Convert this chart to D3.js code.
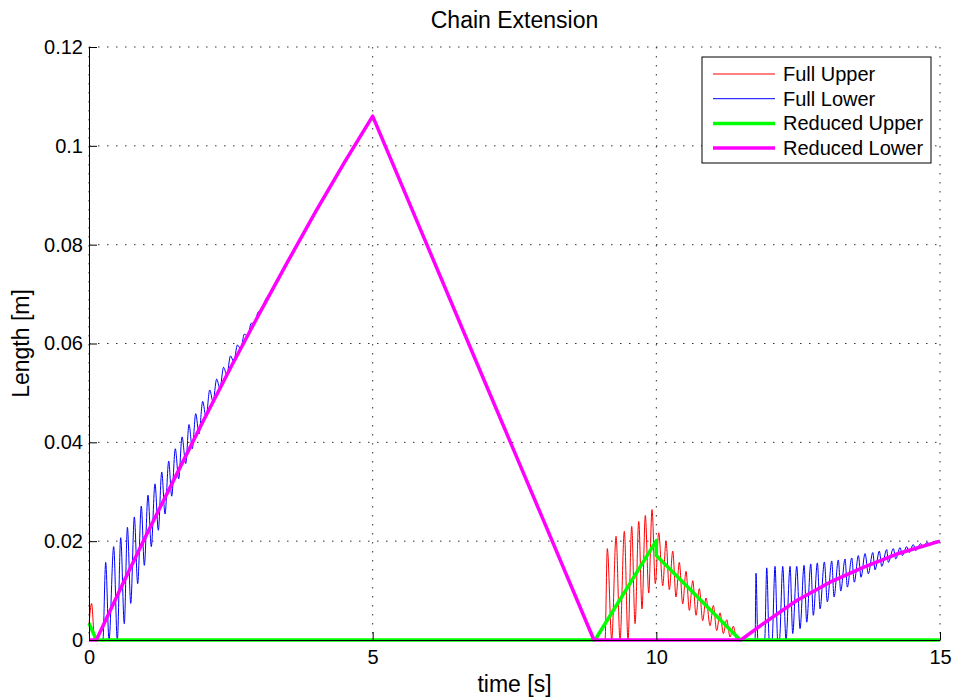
<!DOCTYPE html>
<html>
<head>
<meta charset="utf-8">
<script src="https://cdn.jsdelivr.net/npm/d3@7"></script>
<style>
  body { margin: 0; background: #fff; }
  text { font-family: "Liberation Sans", Arial, sans-serif; fill: #000; }
  .grid line { stroke: #333; stroke-width: 1; stroke-dasharray: 1.5, 7.5; }
  .axis path, .axis line { stroke: #000; stroke-width: 1; }
</style>
</head>
<body>
<div id="chart"></div>
<script>
// Chart data: [time s, length m]
var seriesNames = ["Full Upper", "Full Lower", "Reduced Upper", "Reduced Lower"];
var xTicks = [0, 5, 10, 15];
var yTicks = [0, 0.02, 0.04, 0.06, 0.08, 0.1, 0.12];

var fullUpper = [
  [0, 0.003], [0.045, 0.0074], [0.1, 0], [9.096, 0],
  [9.136, 0.0185], [9.214, 0], [9.29, 0.021], [9.36, 0], [9.436, 0.022], [9.501, 0],
  [9.566, 0.023], [9.625, 0.0033], [9.69, 0.024], [9.748, 0.0063], [9.806, 0.0252],
  [9.866, 0.0095], [9.924, 0.0264], [9.982, 0.0114], [10.042, 0.0217], [10.113, 0.011],
  [10.171, 0.02], [10.229, 0.0102], [10.289, 0.018], [10.347, 0.0087], [10.405, 0.0157],
  [10.465, 0.0073], [10.523, 0.0139], [10.582, 0.006], [10.642, 0.012], [10.7, 0.005],
  [10.758, 0.0104], [10.817, 0.0039], [10.876, 0.0085], [10.947, 0.0029], [11.005, 0.007],
  [11.064, 0.0019], [11.123, 0.0055], [11.181, 0.0013], [11.241, 0.0041], [11.299, 0.0006],
  [11.357, 0.0028], [11.417, 0], [15, 0]
];

var fullLower = [
  [0, 0], [0.245, 0], [0.294, 0.0157], [0.353, 0], [0.435, 0.0189], [0.499, 0],
  [0.559, 0.0207], [0.622, 0.0033], [0.677, 0.0228], [0.736, 0.0074], [0.799, 0.0249],
  [0.858, 0.0114], [0.922, 0.0271], [0.975, 0.0151], [1.04, 0.0293], [1.098, 0.0189],
  [1.163, 0.0316], [1.222, 0.0222], [1.282, 0.034], [1.34, 0.0255], [1.405, 0.0362],
  [1.458, 0.0291], [1.521, 0.0387], [1.581, 0.0326], [1.64, 0.0411], [1.705, 0.0357],
  [1.763, 0.0436], [1.821, 0.0387], [1.881, 0.0458], [1.939, 0.0417], [2.004, 0.0483],
  [2.063, 0.045], [2.128, 0.0506], [2.186, 0.0482], [2.25, 0.0528], [2.308, 0.0509],
  [2.372, 0.0552], [2.43, 0.0536], [2.494, 0.0575], [2.552, 0.0563], [2.616, 0.0597],
  [2.674, 0.0589], [2.738, 0.0619], [2.796, 0.0615], [2.86, 0.0641], [2.918, 0.0641],
  [2.982, 0.0664], [3.04, 0.0667], [3.104, 0.0687], [3.2, 0.0703], [3.5, 0.0765],
  [4.0, 0.0868], [4.5, 0.0966], [4.95, 0.1051], [5.0, 0.106], [5.05, 0.1046],
  [6, 0.0788], [7, 0.0516], [8, 0.0245], [8.85, 0.0014], [8.9, 0], [11.74, 0],
  [11.757, 0.0135], [11.79, 0], [11.91, 0], [11.946, 0.0146], [11.99, 0], [12.04, 0],
  [12.092, 0.0149], [12.14, 0], [12.17, 0], [12.228, 0.0149], [12.286, 0],
  [12.357, 0.0149], [12.404, 0.0013], [12.475, 0.0149], [12.533, 0.0023], [12.604, 0.0151],
  [12.651, 0.0036], [12.722, 0.0154], [12.767, 0.005], [12.838, 0.0156], [12.886, 0.0063],
  [12.962, 0.0158], [13.014, 0.0077], [13.092, 0.016], [13.132, 0.0087], [13.208, 0.0162],
  [13.25, 0.0099], [13.326, 0.0164], [13.367, 0.0107], [13.444, 0.0166], [13.49, 0.0117],
  [13.561, 0.0171], [13.608, 0.0127], [13.679, 0.0175], [13.737, 0.0134], [13.815, 0.0177],
  [13.855, 0.0142], [13.931, 0.018], [13.973, 0.0149], [14.061, 0.0183], [14.089, 0.0157],
  [14.178, 0.0185], [14.22, 0.0164], [14.296, 0.0187], [14.336, 0.0171], [14.414, 0.0189],
  [14.454, 0.0177], [14.53, 0.0193], [14.572, 0.0181], [14.661, 0.0195], [14.696, 0.0187],
  [14.777, 0.0198], [14.812, 0.0191], [14.895, 0.02], [14.93, 0.0196], [15, 0.0201]
];

var reducedUpper = [
  [0, 0.0034], [0.13, 0], [8.92, 0], [10, 0.0201], [10, 0.0171], [11.48, 0], [15, 0]
];

var reducedLower = [
  [0, 0], [0.13, 0], [0.6, 0.0115], [1.0, 0.021], [1.5, 0.0325], [2.0, 0.044],
  [2.5, 0.0552], [3.0, 0.066], [3.5, 0.0765], [4.0, 0.0868], [4.5, 0.0966], [5.0, 0.106],
  [6, 0.0788], [7, 0.0516], [8, 0.0245], [8.9, 0], [11.49, 0], [11.886, 0.0033],
  [12.475, 0.008], [13.062, 0.0117], [13.649, 0.0147], [14.238, 0.0174], [15, 0.02]
];

// Size of chart area
var svgWidth = 953;
var svgHeight = 698;

var margin = { top: 47, right: 13, bottom: 58, left: 89 };

var width = svgWidth - margin.left - margin.right;
var height = svgHeight - margin.top - margin.bottom;

var svg = d3.select("#chart")
  .append("svg")
  .attr("width", svgWidth)
  .attr("height", svgHeight);

var chartGroup = svg.append("g")
  .attr("transform", `translate(${margin.left}, ${margin.top})`);

// Scales
var xScale = d3.scaleLinear().domain([0, 15]).range([0, width]);
var yScale = d3.scaleLinear().domain([0, 0.12]).range([height, 0]);

// Dotted grid
chartGroup.append("g")
  .attr("class", "grid")
  .selectAll("line")
  .data(xTicks)
  .enter()
  .append("line")
  .attr("x1", d => xScale(d))
  .attr("x2", d => xScale(d))
  .attr("y1", 0)
  .attr("y2", height);

chartGroup.append("g")
  .attr("class", "grid")
  .selectAll("line")
  .data(yTicks)
  .enter()
  .append("line")
  .attr("x1", 0)
  .attr("x2", width)
  .attr("y1", d => yScale(d))
  .attr("y2", d => yScale(d));

// Lines
var smoothLine = d3.line()
  .x(d => xScale(d[0]))
  .y(d => yScale(d[1]))
  .curve(d3.curveMonotoneX);

var straightLine = d3.line()
  .x(d => xScale(d[0]))
  .y(d => yScale(d[1]));

var series = [
  { data: fullUpper, color: "#ff0000", width: 1, line: smoothLine },
  { data: fullLower, color: "#0000ff", width: 1, line: smoothLine },
  { data: reducedUpper, color: "#00ff00", width: 3.5, line: straightLine },
  { data: reducedLower, color: "#ff00ff", width: 3.5, line: straightLine }
];

series.forEach(function(s) {
  chartGroup.append("path")
    .attr("d", s.line(s.data))
    .attr("fill", "none")
    .attr("stroke", s.color)
    .attr("stroke-width", s.width)
    .attr("stroke-linejoin", "round");
});

// Axes with inward ticks
var bottomAxis = d3.axisBottom(xScale)
  .tickValues(xTicks)
  .tickFormat(d3.format("d"))
  .tickSizeInner(-8)
  .tickSizeOuter(0)
  .tickPadding(10);

var leftAxis = d3.axisLeft(yScale)
  .tickValues(yTicks)
  .tickFormat(d => d === 0 ? "0" : d3.format("~g")(d))
  .tickSizeInner(-8)
  .tickSizeOuter(0)
  .tickPadding(6);

chartGroup.append("g")
  .attr("class", "axis")
  .attr("transform", `translate(0, ${height})`)
  .call(bottomAxis)
  .selectAll("text")
  .style("font-size", "20px");

chartGroup.append("g")
  .attr("class", "axis")
  .call(leftAxis)
  .selectAll("text")
  .style("font-size", "20px");

// Title and axis labels
svg.append("text")
  .attr("x", margin.left + width / 2)
  .attr("y", 28)
  .attr("text-anchor", "middle")
  .style("font-size", "23px")
  .text("Chain Extension");

svg.append("text")
  .attr("x", margin.left + width / 2)
  .attr("y", 692)
  .attr("text-anchor", "middle")
  .style("font-size", "23px")
  .text("time [s]");

svg.append("text")
  .attr("transform", "rotate(-90)")
  .attr("x", -(margin.top + height / 2))
  .attr("y", 29)
  .attr("text-anchor", "middle")
  .style("font-size", "23px")
  .text("Length [m]");

// Legend
var legend = svg.append("g")
  .attr("transform", "translate(702, 57)");

legend.append("rect")
  .attr("width", 229)
  .attr("height", 106)
  .attr("fill", "#fff")
  .attr("stroke", "#000")
  .attr("stroke-width", 1);

var legendRows = legend.selectAll("g.row")
  .data(series)
  .enter()
  .append("g")
  .attr("class", "row")
  .attr("transform", (d, i) => `translate(0, ${17 + i * 24.7})`);

legendRows.append("line")
  .attr("x1", 11)
  .attr("x2", 73)
  .attr("stroke", d => d.color)
  .attr("stroke-width", d => d.width);

legendRows.append("text")
  .attr("x", 81)
  .attr("dy", "0.35em")
  .style("font-size", "20px")
  .text((d, i) => seriesNames[i]);
</script>
</body>
</html>
